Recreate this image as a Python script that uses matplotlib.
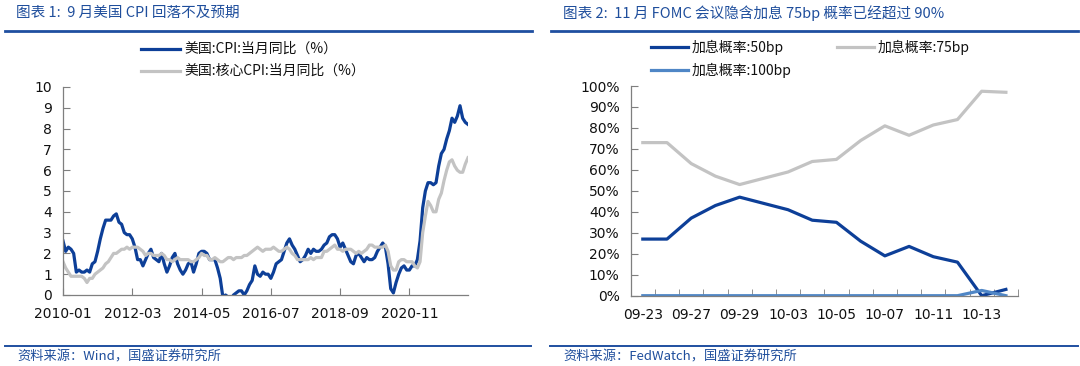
import matplotlib.pyplot as plt
import numpy as np

plt.rcParams["font.family"] = ["Noto Sans CJK SC", "DejaVu Sans"]

# left chart: US CPI yoy, monthly 2010-01 .. 2022-09
cpi = [
    2.6, 2.1, 2.3, 2.2, 2.0, 1.1, 1.2, 1.1, 1.1, 1.2, 1.1, 1.5,
    1.6, 2.1, 2.7, 3.2, 3.6, 3.6, 3.6, 3.8, 3.9, 3.5, 3.4, 3.0,
    2.9, 2.9, 2.7, 2.3, 1.7, 1.7, 1.4, 1.7, 2.0, 2.2, 1.8, 1.7,
    1.6, 2.0, 1.5, 1.1, 1.4, 1.8, 2.0, 1.5, 1.2, 1.0, 1.2, 1.5,
    1.6, 1.1, 1.5, 2.0, 2.1, 2.1, 2.0, 1.7, 1.7, 1.7, 1.3, 0.8,
    -0.1, 0.0, -0.1, -0.2, 0.0, 0.1, 0.2, 0.2, 0.0, 0.2, 0.5, 0.7,
    1.4, 1.0, 0.9, 1.1, 1.0, 1.0, 0.8, 1.1, 1.5, 1.6, 1.7, 2.1,
    2.5, 2.7, 2.4, 2.2, 1.9, 1.6, 1.7, 1.9, 2.2, 2.0, 2.2, 2.1,
    2.1, 2.2, 2.4, 2.5, 2.8, 2.9, 2.9, 2.7, 2.3, 2.5, 2.2, 1.9,
    1.6, 1.5, 1.9, 2.0, 1.8, 1.6, 1.8, 1.7, 1.7, 1.8, 2.1, 2.3,
    2.5, 2.3, 1.5, 0.3, 0.1, 0.6, 1.0, 1.3, 1.4, 1.2, 1.2, 1.4,
    1.4, 1.7, 2.6, 4.2, 5.0, 5.4, 5.4, 5.3, 5.4, 6.2, 6.8, 7.0,
    7.5, 7.9, 8.5, 8.3, 8.6, 9.1, 8.5, 8.3, 8.2,
]
core_cpi = [
    1.6, 1.3, 1.1, 0.9, 0.9, 0.9, 0.9, 0.9, 0.8, 0.6, 0.8, 0.8,
    1.0, 1.1, 1.2, 1.3, 1.5, 1.6, 1.8, 2.0, 2.0, 2.1, 2.2, 2.2,
    2.3, 2.2, 2.3, 2.3, 2.3, 2.2, 2.1, 1.9, 2.0, 2.0, 1.9, 1.9,
    1.9, 2.0, 1.9, 1.7, 1.7, 1.6, 1.7, 1.8, 1.7, 1.7, 1.7, 1.7,
    1.6, 1.6, 1.7, 1.8, 2.0, 1.9, 1.9, 1.7, 1.7, 1.8, 1.7, 1.6,
    1.6, 1.7, 1.8, 1.8, 1.7, 1.8, 1.8, 1.8, 1.9, 1.9, 2.0, 2.1,
    2.2, 2.3, 2.2, 2.1, 2.2, 2.2, 2.2, 2.3, 2.2, 2.1, 2.1, 2.2,
    2.3, 2.2, 2.0, 1.9, 1.7, 1.7, 1.7, 1.7, 1.7, 1.8, 1.7, 1.8,
    1.8, 1.8, 2.1, 2.1, 2.2, 2.3, 2.4, 2.2, 2.2, 2.1, 2.2, 2.2,
    2.2, 2.1, 2.0, 2.1, 2.0, 2.1, 2.2, 2.4, 2.4, 2.3, 2.3, 2.3,
    2.3, 2.4, 2.1, 1.4, 1.2, 1.2, 1.6, 1.7, 1.7, 1.6, 1.6, 1.6,
    1.4, 1.3, 1.6, 3.0, 3.8, 4.5, 4.3, 4.0, 4.0, 4.6, 4.9, 5.5,
    6.0, 6.4, 6.5, 6.2, 6.0, 5.9, 5.9, 6.3, 6.6,
]
months = [f"{2010 + i // 12}-{i % 12 + 1:02d}" for i in range(len(cpi))]

# right chart: FedWatch probabilities for Nov FOMC
dates = ["09-23", "09-26", "09-27", "09-28", "09-29", "09-30", "10-03", "10-04",
         "10-05", "10-06", "10-07", "10-10", "10-11", "10-12", "10-13", "10-14"]
p50 = [27, 27, 37, 43, 47, 44, 41, 36, 35, 26, 19, 23.5, 18.6, 16, 0, 3]
p75 = [73, 73, 63, 57, 53, 56, 59, 64, 65, 74, 81, 76.5, 81.4, 84, 97.5, 97]
p100 = [0, 0, 0, 0, 0, 0, 0, 0, 0, 0, 0, 0, 0, 0, 2.5, 0]

DARK = "#0D3F98"
GRAY = "#C3C3C3"
LIGHT = "#4F86C6"
TEXTBLUE = "#1F4E9C"

W, H = 1080, 366
fig = plt.figure(figsize=(W / 100, H / 100), dpi=100)


def fx(px):
    return px / W


def fy(py):
    return 1 - py / H


def hline(x0, x1, y, lw):
    fig.add_artist(plt.Line2D([fx(x0), fx(x1)], [fy(y), fy(y)], color="#1F4FA0", lw=lw,
                              transform=fig.transFigure))


# titles, rules and footers
fig.text(fx(16), fy(13), "图表 1:  9 月美国 CPI 回落不及预期", color=TEXTBLUE, fontsize=10.5,
         va="center", ha="left")
fig.text(fx(563), fy(13), "图表 2:  11 月 FOMC 会议隐含加息 75bp 概率已经超过 90%", color=TEXTBLUE,
         fontsize=10.5, va="center", ha="left")
hline(5, 532, 31, 2.0)
hline(551, 1078, 31, 2.0)
hline(5, 531, 346, 1.4)
hline(550, 1078, 346, 1.4)
fig.text(fx(17), fy(357), "资料来源：Wind，国盛证券研究所", color=TEXTBLUE, fontsize=9.5,
         va="center", ha="left")
fig.text(fx(563), fy(357), "资料来源：FedWatch，国盛证券研究所", color=TEXTBLUE, fontsize=9.5,
         va="center", ha="left")


def style_axes(ax):
    for s in ["top", "right"]:
        ax.spines[s].set_visible(False)
    for s in ["left", "bottom"]:
        ax.spines[s].set_color("#7F7F7F")
        ax.spines[s].set_linewidth(0.9)
    ax.tick_params(axis="both", which="both", direction="in", length=5, color="#7F7F7F",
                   labelsize=10, labelcolor="#111111")
    ax.tick_params(axis="x", pad=9)
    ax.tick_params(axis="y", pad=8)


# left chart
ax1 = fig.add_axes([fx(63), fy(295), fx(468 - 63), (295 - 87) / H])
x = np.arange(len(cpi))
ax1.plot(x, cpi, color=DARK, lw=2.3, solid_joinstyle="round")
ax1.plot(x, core_cpi, color=GRAY, lw=2.3, solid_joinstyle="round")
ax1.set_xlim(0, len(cpi) - 1)
ax1.set_ylim(0, 10)
ax1.set_yticks(range(0, 11))
ax1.set_xticks(x[::26])
ax1.set_xticklabels([months[i] for i in x[::26]], family=["DejaVu Sans"])
for lab in ax1.get_yticklabels():
    lab.set_family(["DejaVu Sans"])
style_axes(ax1)

# left legend
fig.add_artist(plt.Line2D([fx(141), fx(180)], [fy(49), fy(49)], color=DARK, lw=2.3,
                          transform=fig.transFigure))
fig.add_artist(plt.Line2D([fx(141), fx(180)], [fy(71), fy(71)], color=GRAY, lw=2.3,
                          transform=fig.transFigure))
fig.text(fx(184), fy(49), "美国:CPI:当月同比（%）", fontsize=10, va="center", color="#111111")
fig.text(fx(184), fy(71), "美国:核心CPI:当月同比（%）", fontsize=10, va="center", color="#111111")

# right chart
ax2 = fig.add_axes([fx(630.7), fy(295.7), fx(1018 - 630.7), (295.7 - 86) / H])
xr = np.arange(len(dates))
ax2.plot(xr, p50, color=DARK, lw=2.3, solid_joinstyle="round")
ax2.plot(xr, p75, color=GRAY, lw=2.3, solid_joinstyle="round")
ax2.plot(xr, p100, color=LIGHT, lw=2.3, solid_joinstyle="round")
ax2.set_xlim(-0.5, len(dates) - 0.5)
ax2.set_ylim(0, 100)
ax2.set_yticks(range(0, 101, 10))
ax2.set_yticklabels([f"{v}%" for v in range(0, 101, 10)], family=["DejaVu Sans"])
ax2.set_xticks(xr[::2])
ax2.set_xticklabels([dates[i] for i in xr[::2]], family=["DejaVu Sans"])
ax2.set_xticks(np.arange(-0.5, len(dates), 1), minor=True)
style_axes(ax2)
ax2.tick_params(axis="x", which="major", length=0)

# right legend
for (x0, y0, c, lab) in [(651, 47, DARK, "加息概率:50bp"), (837, 47, GRAY, "加息概率:75bp"),
                         (651, 70, LIGHT, "加息概率:100bp")]:
    fig.add_artist(plt.Line2D([fx(x0), fx(x0 + 37)], [fy(y0), fy(y0)], color=c, lw=2.3,
                              transform=fig.transFigure))
    fig.text(fx(x0 + 41), fy(y0), lab, fontsize=10, va="center", color="#111111")

fig.savefig("out.png", dpi=100)
